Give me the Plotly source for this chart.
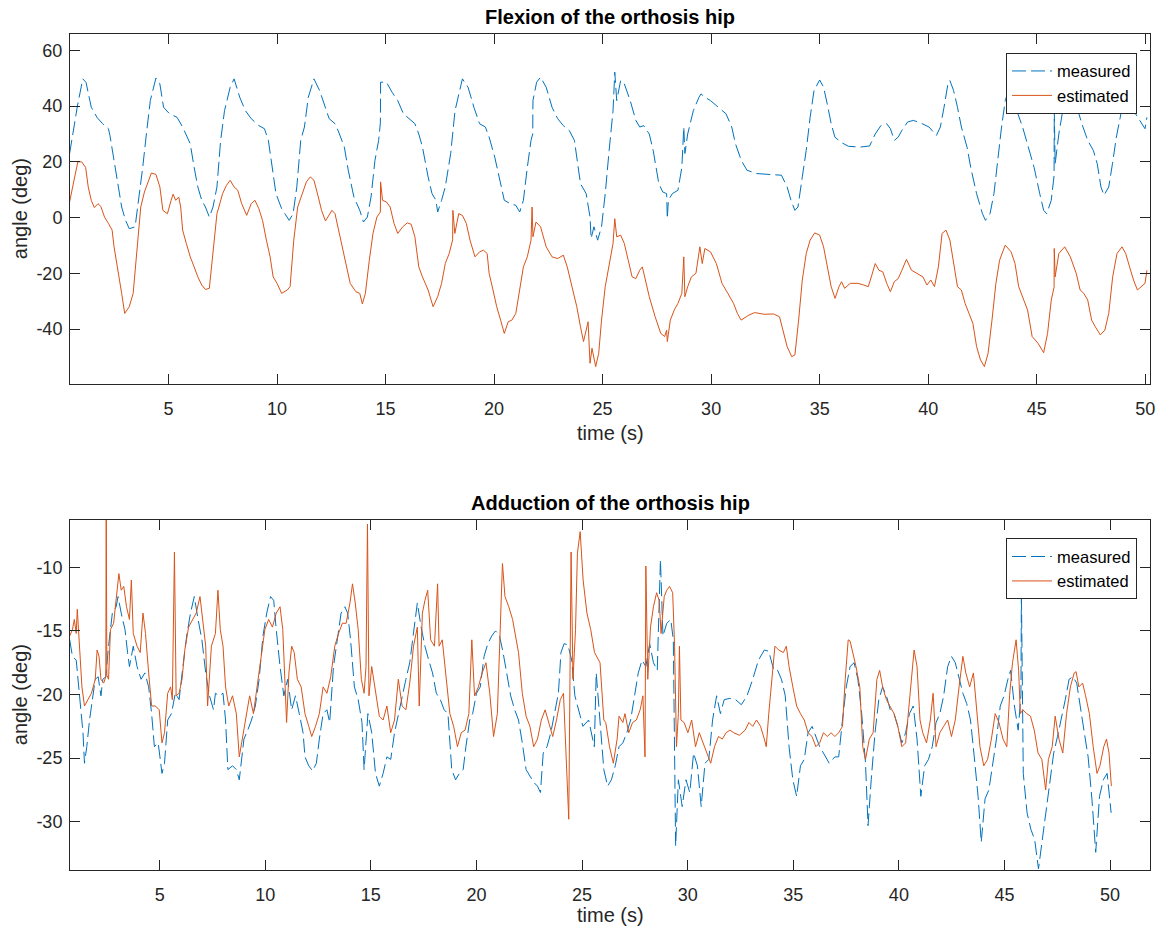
import plotly.graph_objects as go

# ---------------- data (time s, angle deg) ----------------
flex_measured = [
    (0.44, 22.9), (0.65, 33), (0.8, 40), (1.05, 49.8), (1.2, 48.5), (1.44, 39.6), (1.7, 36), (1.96, 33.7),
    (2.23, 31.9), (2.3, 29.5), (2.49, 20.5), (2.67, 11), (2.84, 3.8), (3.02, -1), (3.19, -4), (3.46, -3.3),
    (3.63, 6.2), (3.81, 18), (3.98, 30), (4.16, 42), (4.42, 50.1), (4.6, 48), (4.77, 39.6), (5.04, 37.3),
    (5.2, 36.7), (5.39, 36), (5.65, 32.5), (6.0, 26.5), (6.18, 18), (6.35, 11), (6.53, 6.2), (6.7, 3.8),
    (6.88, 0.2), (7.05, 3.8), (7.23, 11), (7.4, 27.7), (7.58, 38.4), (7.84, 46.8), (8.02, 49.8), (8.28, 43.2),
    (8.54, 38.4), (8.81, 35.5), (9.16, 33), (9.42, 31.9), (9.6, 27.7), (9.77, 18), (9.95, 8.6), (10.21, 3.2),
    (10.56, -1), (10.74, 1.4), (10.91, 11), (11.09, 27.7), (11.26, 32.5), (11.44, 43.2), (11.7, 49.8),
    (11.96, 45.6), (12.23, 39.6), (12.4, 35.5), (12.67, 33.7), (12.84, 30.7), (13.1, 25.3), (13.28, 17),
    (13.54, 7.4), (13.81, 2.6), (13.98, -1.6), (14.16, 0.2), (14.33, 7.4), (14.51, 20.5), (14.68, 27.7),
    (14.76, 34), (14.77, 48.6), (15.04, 48.6), (15.3, 45), (15.56, 42), (15.82, 37.3), (16.09, 35.5),
    (16.35, 33.7), (16.53, 30), (16.7, 25.3), (16.96, 14.6), (17.14, 8.6), (17.32, 6.2), (17.4, 2),
    (17.58, 6.2), (17.75, 11), (18.0, 23), (18.2, 38.4), (18.54, 49.8), (18.8, 46.8), (19.07, 39.6),
    (19.33, 33.7), (19.6, 32.5), (19.77, 28.9), (20.03, 21.7), (20.3, 12.2), (20.47, 6.2), (20.74, 5),
    (21.0, 4.4), (21.18, 2), (21.35, 6.2), (21.53, 18), (21.7, 27.7), (21.78, 30), (21.79, 42), (21.96, 48.6),
    (22.14, 50.4), (22.4, 46.8), (22.67, 39.6), (22.93, 35.5), (23.19, 33), (23.46, 31.3), (23.7, 27.7),
    (23.98, 12.2), (24.24, 8.6), (24.42, 0.2), (24.47, -7.5), (24.6, -3.3), (24.77, -8.1), (24.95, -3.3),
    (25.12, 8.6), (25.3, 24.1), (25.48, 38.4), (25.56, 52.2), (25.65, 42), (25.83, 49.2), (26.0, 48),
    (26.27, 42), (26.53, 34.9), (26.71, 32.5), (26.89, 33), (27.15, 30), (27.33, 24.1), (27.59, 12.2),
    (27.77, 9.2), (27.95, 8.6), (27.98, -0.4), (28.03, 6.2), (28.21, 8.6), (28.47, 9.8), (28.65, 18),
    (28.74, 32.5), (28.79, 23), (28.92, 30), (29.18, 38.4), (29.44, 43.2), (29.53, 44.4), (29.71, 43.2),
    (29.97, 42), (30.33, 39.6), (30.68, 37.3), (30.95, 32.5), (31.12, 26.5), (31.39, 20.5), (31.65, 17),
    (32.09, 15.8), (32.7, 15.5), (33.24, 15.2), (33.5, 11), (33.68, 6.2), (33.86, 2.6), (34.0, 3.8),
    (34.2, 14.6), (34.38, 24.1), (34.56, 36), (34.74, 45.6), (35.0, 49.4), (35.18, 46.8), (35.35, 40.8),
    (35.53, 33.7), (35.7, 28.9), (35.97, 27.1), (36.32, 25.6), (36.85, 25.3), (37.3, 25.7), (37.56, 30),
    (37.82, 33), (38.09, 33.7), (38.26, 31.9), (38.44, 27.7), (38.62, 28.9), (38.79, 31.3), (39.05, 34.3),
    (39.32, 34.9), (39.67, 33.9), (40.04, 32.5), (40.38, 29.5), (40.56, 32.5), (40.73, 39.6), (40.91, 48),
    (41.0, 49.2), (41.17, 45.6), (41.35, 39.6), (41.53, 32.5), (41.79, 25.3), (41.96, 18), (42.23, 8.6),
    (42.5, 1.4), (42.64, -1), (42.85, 1.4), (43.03, 8.6), (43.2, 20.5), (43.38, 32.5), (43.55, 42),
    (43.75, 46.5), (43.95, 44), (44.08, 38.4), (44.35, 32.5), (44.6, 25.3), (44.88, 18), (45.14, 8.6),
    (45.32, 2.6), (45.46, 1.4), (45.67, 6.2), (45.8, 15), (45.81, 38.4), (45.85, 19.3), (46.02, 30),
    (46.2, 38.4), (46.38, 43.2), (46.55, 46), (46.75, 44), (46.9, 38.4), (47.08, 33.7), (47.35, 27.7),
    (47.61, 24.1), (47.79, 19.3), (47.96, 11), (48.1, 8), (48.32, 11), (48.49, 19.3), (48.67, 28.9),
    (48.85, 36), (49.02, 43.2), (49.15, 44.5), (49.3, 41), (49.46, 38.4), (49.73, 34.9), (49.99, 31.9),
    (50.08, 36),
]

flex_estimated = [
    (0.44, 5.6), (0.65, 13.4), (0.82, 20), (1.0, 20), (1.18, 18), (1.3, 11), (1.44, 6.2), (1.58, 3.6),
    (1.75, 5), (1.88, 4), (2.05, 0.2), (2.23, -2.1), (2.4, -4.5), (2.49, -10.5), (2.67, -20), (2.84, -27.2),
    (2.98, -34.4), (3.19, -32), (3.37, -27.2), (3.54, -12.9), (3.72, 3.8), (3.89, 9.2), (4.07, 13.4),
    (4.21, 16), (4.42, 15.5), (4.6, 11), (4.74, 2.6), (4.95, 1.4), (5.12, 6.2), (5.21, 8.4), (5.33, 6.2),
    (5.47, 7.4), (5.56, 3.8), (5.65, -4.5), (5.82, -9.3), (6.0, -14.1), (6.18, -17.7), (6.35, -21.3),
    (6.53, -24.2), (6.7, -25.8), (6.88, -25.4), (7.05, -12.9), (7.23, 1.4), (7.32, 3.8), (7.49, 8.6),
    (7.67, 11.6), (7.84, 13.4), (8.02, 11), (8.19, 9.8), (8.37, 5), (8.6, 0.8), (8.81, 5), (8.98, 6.2),
    (9.16, 3.2), (9.33, -1), (9.51, -8.1), (9.68, -14.1), (9.82, -21.3), (10.0, -23.6), (10.21, -27.2),
    (10.47, -26), (10.6, -24.8), (10.77, -8.1), (10.95, 3.8), (11.18, 9.2), (11.35, 12.8), (11.53, 14.6),
    (11.7, 13.4), (11.88, 8), (12.05, 2.6), (12.23, -1.2), (12.4, 0.8), (12.53, 2.6), (12.67, 1.4),
    (12.84, -4.5), (13.02, -10.5), (13.19, -16.5), (13.37, -23.6), (13.63, -26.6), (13.81, -27.2),
    (13.93, -31), (14.07, -27.2), (14.25, -15.3), (14.42, -5.7), (14.6, 0.2), (14.76, 2), (14.77, 12.8),
    (14.86, 6.2), (15.04, 5.6), (15.21, 3.8), (15.39, -2.1), (15.56, -5.7), (15.79, -3.3), (16.0, -1.9),
    (16.18, -2.4), (16.35, -6.9), (16.53, -17.7), (16.7, -21.3), (16.96, -26), (17.19, -32), (17.4, -28.4),
    (17.58, -23.6), (17.75, -16.5), (17.93, -12.9), (18.09, -8), (18.1, 2.6), (18.19, -5.7), (18.37, 1.4),
    (18.54, 0.8), (18.72, -2.1), (18.89, -8.1), (19.12, -14.1), (19.33, -12.3), (19.51, -11.7),
    (19.68, -12.9), (19.77, -20), (19.95, -26), (20.12, -32), (20.3, -36.8), (20.47, -41.6), (20.65, -37.4),
    (20.82, -36.8), (21.0, -34.4), (21.18, -26), (21.35, -17.7), (21.53, -14.1), (21.7, -8.1), (21.75, 3.8),
    (21.79, -6.9), (21.93, -1.6), (22.14, -3.3), (22.4, -10.5), (22.67, -14.1), (22.93, -14.7),
    (23.19, -13.5), (23.37, -17.7), (23.54, -23.6), (23.81, -32), (23.98, -39.2), (24.12, -44.5),
    (24.33, -37.4), (24.42, -52.3), (24.51, -46.9), (24.68, -53.5), (24.82, -48.7), (24.95, -36.8),
    (25.12, -24.8), (25.3, -17.7), (25.48, -9.3), (25.56, -0.4), (25.65, -6.9), (25.83, -6.3), (26.0, -9.3),
    (26.18, -15.3), (26.36, -21.3), (26.53, -21.9), (26.71, -18.9), (26.83, -17.7), (26.98, -22.4),
    (27.15, -28.4), (27.42, -35.6), (27.68, -41.6), (27.86, -42.7), (27.95, -40.4), (27.98, -44.5),
    (28.12, -36.8), (28.3, -33.2), (28.47, -30.8), (28.65, -27.2), (28.74, -14.1), (28.79, -28.4),
    (28.92, -24.8), (29.09, -21.3), (29.3, -20), (29.48, -10.5), (29.59, -16.5), (29.71, -11.1),
    (29.97, -12.3), (30.24, -16.5), (30.5, -23.6), (30.77, -27.2), (31.03, -30.8), (31.21, -34.4),
    (31.38, -36.8), (31.74, -35), (32.0, -34.1), (32.44, -34.7), (32.88, -34.6), (33.15, -35.6),
    (33.32, -40.4), (33.5, -46.3), (33.71, -49.9), (33.86, -49.3), (34.03, -36.8), (34.2, -22.4),
    (34.38, -12.9), (34.56, -8.1), (34.77, -5.5), (35.0, -6.3), (35.18, -10.5), (35.35, -17.7),
    (35.53, -24.8), (35.71, -29), (35.89, -24.8), (36.01, -23), (36.15, -25.4), (36.41, -23.6),
    (36.76, -23.6), (37.03, -24.2), (37.24, -24.8), (37.38, -21.3), (37.56, -16.5), (37.73, -18.9),
    (37.91, -19.5), (38.09, -23.6), (38.26, -26.6), (38.44, -23), (38.62, -21.9), (38.79, -18.9), (39.0, -15),
    (39.23, -18.9), (39.5, -20), (39.76, -21.3), (39.94, -24.2), (40.12, -22.4), (40.29, -24.8),
    (40.47, -17.7), (40.64, -5.7), (40.82, -4.5), (41.0, -8.1), (41.17, -16.5), (41.35, -24.8), (41.53, -26),
    (41.7, -30.8), (41.88, -34.4), (42.06, -38), (42.23, -46.3), (42.41, -51.1), (42.59, -53.5),
    (42.76, -48.7), (42.94, -36.8), (43.12, -23.6), (43.29, -15.3), (43.55, -9.9), (43.82, -12.3), (44.0, -16.5),
    (44.17, -24.8), (44.4, -29.6), (44.58, -33.2), (44.79, -42.7), (45.06, -45.1), (45.32, -48.5),
    (45.5, -41.6), (45.67, -29.6), (45.8, -25), (45.81, -11.1), (45.85, -21.3), (46.02, -12.9),
    (46.29, -10.5), (46.55, -14.1), (46.82, -20), (47.0, -26), (47.17, -27.2), (47.35, -29.6), (47.53, -36.8),
    (47.7, -39.2), (47.93, -42.1), (48.14, -40.4), (48.32, -34.4), (48.5, -21.3), (48.7, -12.9),
    (48.93, -10.5), (49.1, -12.9), (49.28, -17.7), (49.46, -22.4), (49.64, -26), (49.8, -24.8),
    (49.99, -23.6), (50.08, -18.9),
]

add_measured = [
    (0.74, -15.7), (0.87, -17), (1.05, -17.3), (1.14, -18.8), (1.23, -20.4), (1.37, -23), (1.44, -25.4),
    (1.55, -24.1), (1.68, -22), (1.86, -20.1), (1.95, -18.8), (2.09, -18.6), (2.22, -20.1), (2.31, -18.8),
    (2.45, -18.6), (2.58, -16.2), (2.76, -13.6), (2.94, -13.1), (3.03, -12.3), (3.18, -13.6), (3.36, -14.9),
    (3.48, -16.7), (3.57, -17.8), (3.75, -16.2), (3.93, -17.8), (4.12, -18.8), (4.3, -18.3), (4.48, -19.4),
    (4.62, -21.5), (4.75, -24.1), (4.93, -23.8), (5.11, -26.2), (5.23, -25.4), (5.38, -22), (5.56, -21.5),
    (5.74, -19.9), (5.92, -20.4), (6.1, -17.8), (6.28, -15.4), (6.46, -13.6), (6.64, -12.3), (6.82, -14.1),
    (7.0, -15.7), (7.18, -18.3), (7.36, -20.1), (7.55, -21.2), (7.64, -19.9), (7.82, -20.1), (8.0, -19.9),
    (8.12, -22), (8.23, -25.9), (8.45, -25.6), (8.63, -25.9), (8.77, -26.7), (8.99, -23.5), (9.17, -22.8),
    (9.35, -22), (9.53, -20.9), (9.71, -18.8), (9.89, -15.4), (10.07, -13.6), (10.25, -12.3), (10.4, -12.6),
    (10.52, -14.9), (10.7, -17.8), (10.88, -20.1), (11.06, -18.8), (11.25, -21.2), (11.43, -20.1),
    (11.61, -21.5), (11.79, -23), (11.88, -24.9), (12.06, -25.6), (12.24, -26), (12.42, -25.4),
    (12.56, -23.5), (12.74, -21.5), (12.92, -21.2), (13.05, -22.2), (13.23, -17.8), (13.41, -15.7),
    (13.59, -13.6), (13.77, -13.1), (13.9, -13.6), (14.04, -15.7), (14.22, -19.4), (14.4, -20.4),
    (14.58, -22.2), (14.68, -25.9), (14.86, -21.5), (15.04, -23), (15.22, -26.2), (15.4, -27.2),
    (15.58, -26.2), (15.76, -24.9), (15.94, -25.1), (16.12, -23), (16.3, -21.5), (16.48, -20.1),
    (16.66, -18.8), (16.84, -17.5), (17.02, -14.9), (17.2, -12.8), (17.38, -14.7), (17.56, -16.2),
    (17.74, -17.3), (17.92, -18.3), (18.1, -19.9), (18.29, -20.4), (18.47, -21.2), (18.65, -21.5),
    (18.83, -25.9), (19.01, -26.7), (19.19, -26.2), (19.37, -25.9), (19.5, -24.1), (19.68, -22),
    (19.82, -21.5), (20.0, -19.9), (20.18, -19.4), (20.36, -17), (20.54, -16), (20.72, -15.4), (20.9, -15),
    (21.08, -15.3), (21.26, -16.7), (21.44, -18.3), (21.62, -20.1), (21.81, -21.2), (21.99, -22),
    (22.17, -23.8), (22.35, -25.9), (22.53, -26.4), (22.71, -26.9), (22.89, -27.2), (23.03, -27.7),
    (23.16, -24.6), (23.34, -24.1), (23.52, -23), (23.7, -21.5), (23.88, -19.9), (24.0, -16.7), (24.15, -16),
    (24.33, -16.1), (24.51, -17.3), (24.66, -20.1), (24.87, -21.5), (25.04, -22.5), (25.31, -22),
    (25.58, -24.1), (25.67, -18.3), (25.85, -22.2), (26.03, -25.9), (26.21, -27.2), (26.39, -26.7),
    (26.57, -25.6), (26.75, -24.1), (26.93, -23.8), (27.12, -23), (27.3, -22), (27.48, -20.1), (27.66, -18.3),
    (27.84, -17.3), (28.02, -17.8), (28.2, -16), (28.38, -17.5), (28.56, -18.1), (28.71, -9.4),
    (28.83, -15.4), (29.01, -14.4), (29.2, -14.1), (29.32, -15.7), (29.43, -31.9), (29.56, -26.7),
    (29.74, -28.8), (29.92, -26.7), (30.1, -27.7), (30.28, -24.6), (30.46, -25.6), (30.64, -28.8),
    (30.82, -25.4), (31.0, -25.1), (31.18, -22), (31.37, -20.1), (31.55, -21.5), (31.73, -20.4), (32.0, -20.3),
    (32.27, -20.4), (32.54, -20.8), (32.81, -20.1), (33.08, -18.8), (33.35, -17.3), (33.63, -16.5),
    (33.84, -16.6), (34.08, -18.1), (34.26, -18.1), (34.44, -18.8), (34.62, -20.1), (34.8, -24.1),
    (34.98, -26.7), (35.16, -28), (35.34, -25.6), (35.52, -25.1), (35.7, -23), (35.89, -22.5), (36.07, -23.3),
    (36.25, -24.1), (36.43, -24.6), (36.7, -25.4), (36.97, -24.9), (37.15, -24.9), (37.33, -22),
    (37.51, -19.4), (37.69, -17.8), (37.88, -17.5), (38.06, -18.8), (38.24, -21.5), (38.42, -25.4),
    (38.54, -30.3), (38.69, -26.7), (38.87, -23), (39.05, -20.4), (39.23, -19.4), (39.41, -20.1),
    (39.59, -21.2), (39.77, -21.5), (39.95, -22.5), (40.14, -23.8), (40.32, -23), (40.5, -21.5),
    (40.68, -20.9), (40.86, -23.5), (41.04, -28), (41.22, -25.6), (41.4, -25.1), (41.58, -24.1),
    (41.76, -22.2), (41.94, -21.5), (42.12, -20.1), (42.31, -17.8), (42.49, -17), (42.67, -17.5),
    (42.85, -18.8), (43.03, -19.9), (43.21, -20.7), (43.39, -22), (43.57, -24.9), (43.75, -28), (43.9, -31.6),
    (44.08, -28.2), (44.26, -27.5), (44.44, -25.6), (44.62, -23.5), (44.8, -20.9), (44.98, -20.1),
    (45.16, -18.8), (45.29, -18.1), (45.47, -20.9), (45.65, -22.8), (45.78, -20), (45.8, -11.8),
    (45.89, -26.2), (46.07, -29.3), (46.25, -30.6), (46.43, -31.4), (46.61, -33.7), (46.79, -31.4),
    (46.97, -29.3), (47.15, -26.7), (47.33, -24.6), (47.51, -23.3), (47.69, -22), (47.88, -20.4),
    (48.06, -18.8), (48.24, -18.6), (48.42, -19.1), (48.6, -20.9), (48.78, -23), (48.96, -24.9),
    (49.14, -28.2), (49.32, -32.4), (49.5, -28), (49.68, -26.7), (49.86, -26.2), (50.05, -29.3),
]

add_estimated = [
    (0.74, -15.4), (0.87, -14.9), (0.96, -14.1), (1.05, -15.2), (1.1, -13.3), (1.19, -16.2), (1.32, -19.4),
    (1.44, -20.9), (1.59, -20.4), (1.77, -19.9), (1.95, -18.8), (2.04, -16.5), (2.13, -17), (2.22, -18.8),
    (2.35, -19.1), (2.45, -18.6), (2.47, -5), (2.5, -18.5), (2.58, -18.8), (2.67, -14.9), (2.82, -14.4),
    (2.94, -12.3), (3.07, -10.5), (3.18, -11.8), (3.3, -11.5), (3.43, -13.1), (3.57, -14.1), (3.66, -11),
    (3.75, -15.2), (3.93, -16.2), (4.08, -16.7), (4.21, -13.6), (4.33, -15.2), (4.48, -18.3), (4.62, -20.9),
    (4.8, -20.9), (4.98, -21.2), (5.11, -23.8), (5.23, -23), (5.38, -19.9), (5.52, -19.4), (5.6, -20.4),
    (5.7, -8.8), (5.78, -20.1), (5.92, -19.9), (6.06, -18.8), (6.19, -16.5), (6.37, -14.7), (6.55, -14.1),
    (6.73, -13.6), (6.91, -12.3), (7.04, -14.4), (7.18, -16.2), (7.27, -20.9), (7.45, -16.2), (7.64, -15.2),
    (7.76, -11.8), (7.87, -14.9), (8.0, -16.2), (8.12, -19.4), (8.27, -20.9), (8.45, -20.1), (8.63, -21.5),
    (8.77, -24.9), (8.95, -23), (9.13, -21.2), (9.26, -20.1), (9.44, -21.5), (9.62, -19.4), (9.8, -17),
    (9.98, -14.9), (10.16, -14.1), (10.34, -14.7), (10.52, -13.6), (10.7, -13.1), (10.83, -14.9),
    (10.94, -18.8), (11.01, -22.2), (11.12, -18.3), (11.25, -16.2), (11.37, -16.7), (11.52, -18.8),
    (11.7, -19.4), (11.88, -21.5), (12.06, -22.5), (12.2, -23.3), (12.38, -22.5), (12.56, -21.5),
    (12.74, -19.4), (12.92, -19.9), (13.1, -18.6), (13.29, -16.2), (13.47, -15.2), (13.65, -14.4),
    (13.83, -14.4), (14.01, -12.8), (14.13, -11.3), (14.26, -12.8), (14.4, -14.9), (14.55, -18.8),
    (14.68, -19.9), (14.77, -17.8), (14.84, -6.6), (14.91, -20.1), (15.04, -17.8), (15.22, -19.9),
    (15.4, -21.7), (15.58, -22), (15.76, -20.9), (15.94, -23), (16.12, -22), (16.3, -18.8), (16.48, -20.9),
    (16.66, -21.2), (16.84, -19.1), (17.02, -16.2), (17.2, -14.7), (17.29, -20.9), (17.44, -13.6),
    (17.56, -12.6), (17.69, -11.8), (17.83, -15.7), (18.01, -16.2), (18.16, -11.3), (18.23, -16.2),
    (18.38, -15.7), (18.56, -18.8), (18.74, -21.5), (18.92, -22.5), (19.1, -24.1), (19.28, -23),
    (19.46, -22.8), (19.64, -21.5), (19.78, -15.7), (19.91, -20.1), (20.09, -19.4), (20.27, -18.3),
    (20.45, -17.5), (20.63, -19.9), (20.81, -23.3), (20.99, -21.5), (21.12, -14.9), (21.23, -9.7),
    (21.35, -12.3), (21.53, -13.1), (21.71, -14.1), (21.84, -15.2), (21.99, -16.7), (22.17, -19.9),
    (22.35, -21.7), (22.53, -22.5), (22.71, -24.1), (22.89, -23.5), (23.07, -22), (23.25, -21.2),
    (23.43, -22.2), (23.61, -23.3), (23.79, -22), (23.97, -20.4), (24.12, -19.9), (24.24, -25.4),
    (24.37, -29.8), (24.48, -8.8), (24.57, -18.8), (24.69, -14.9), (24.78, -8.9), (24.91, -7.2), (25.05, -11),
    (25.23, -13.6), (25.41, -14.9), (25.59, -16.7), (25.85, -17.5), (26.03, -22), (26.12, -22.2),
    (26.3, -24.1), (26.48, -25.4), (26.66, -23.5), (26.75, -21.7), (26.93, -22.2), (27.03, -21.5),
    (27.21, -23), (27.39, -22.2), (27.57, -22), (27.75, -21.2), (27.88, -20.1), (27.98, -24.9), (28.02, -9.9),
    (28.11, -18.8), (28.24, -14.7), (28.38, -13.1), (28.53, -12), (28.65, -12.6), (28.74, -15.2),
    (28.89, -12.3), (29.01, -11.8), (29.14, -11.5), (29.29, -12), (29.38, -16.2), (29.47, -24.1),
    (29.56, -21.5), (29.61, -16.2), (29.68, -22), (29.83, -22.2), (30.01, -23), (30.19, -22), (30.37, -24.1),
    (30.55, -23), (30.73, -23.8), (30.91, -24.6), (31.09, -25.4), (31.27, -24.1), (31.46, -23.3),
    (31.64, -23.5), (31.82, -23), (32.0, -22.8), (32.18, -23), (32.45, -23.2), (32.72, -22.8), (32.9, -22.2),
    (33.08, -22.5), (33.26, -22), (33.45, -22.5), (33.63, -23.5), (33.72, -24.1), (33.84, -21.5),
    (33.99, -18.6), (34.13, -16.2), (34.31, -16.5), (34.53, -16.7), (34.67, -16.2), (34.8, -17.8),
    (34.98, -19.4), (35.16, -20.9), (35.34, -21.5), (35.52, -22), (35.7, -23), (35.89, -23.3), (36.07, -24.1),
    (36.25, -23.8), (36.43, -23), (36.61, -23.3), (36.79, -23), (36.97, -23.3), (37.15, -23), (37.33, -22.5),
    (37.46, -18.8), (37.6, -15.7), (37.69, -15.8), (37.82, -16.7), (37.97, -17.8), (38.15, -19.4),
    (38.29, -24.1), (38.42, -25.1), (38.6, -23.5), (38.78, -23), (38.96, -18.8), (39.09, -18.1),
    (39.23, -19.4), (39.41, -20.4), (39.59, -20.9), (39.77, -21.5), (39.95, -22.5), (40.14, -24.1),
    (40.32, -23.8), (40.41, -22), (40.59, -18.8), (40.72, -16.5), (40.86, -17.8), (41.0, -22), (41.13, -23),
    (41.31, -23.8), (41.49, -22), (41.62, -19.9), (41.76, -24.1), (41.94, -23), (42.12, -22.5), (42.31, -22),
    (42.49, -23.3), (42.67, -22), (42.85, -19.4), (43.03, -17), (43.17, -18.3), (43.35, -19.4),
    (43.53, -18.3), (43.66, -20.9), (43.84, -24.1), (44.02, -25.6), (44.2, -25.1), (44.38, -23.5),
    (44.56, -21.5), (44.74, -22.2), (44.93, -23.5), (45.11, -24.1), (45.24, -20.1), (45.38, -17.5),
    (45.55, -15.7), (45.67, -18.1), (45.75, -21.5), (45.87, -21.2), (46.05, -21.5), (46.23, -21.7),
    (46.41, -22.8), (46.59, -24.6), (46.77, -25.1), (46.95, -27.5), (47.08, -25.1), (47.26, -24.1),
    (47.4, -21.7), (47.58, -23.5), (47.76, -24.6), (47.94, -21.5), (48.12, -19.4), (48.3, -18.3),
    (48.39, -18.2), (48.52, -19.4), (48.7, -19.1), (48.84, -20.1), (49.02, -21.5), (49.2, -24.1),
    (49.38, -26.2), (49.52, -25.6), (49.7, -24.1), (49.83, -23.5), (49.95, -24.6), (50.06, -27.2),
]

top_xrange = [0.46, 50.22]
top_yrange = [-59.75, 65.9]
bot_xrange = [0.755, 51.89]
bot_yrange = [-33.79, -6.28]
x_ticks = [5, 10, 15, 20, 25, 30, 35, 40, 45, 50]
top_yticks = [-40, -20, 0, 20, 40, 60]
bot_yticks = [-30, -25, -20, -15, -10]

BLUE = "#0072BD"
ORANGE = "#D95319"
AX = "#262626"
FONT = "Liberation Sans, Arial, sans-serif"


def split(pairs):
    return [p[0] for p in pairs], [p[1] for p in pairs]


def labels(vals):
    return [str(v) for v in vals]  # plain hyphen-minus like the reference


fig = go.Figure()

for pairs, name, color, dash, xa, ya, lg in [
    (flex_measured, "measured", BLUE, "14px,5px", "x", "y", "legend"),
    (flex_estimated, "estimated", ORANGE, "solid", "x", "y", "legend"),
    (add_measured, "measured", BLUE, "14px,5px", "x2", "y2", "legend2"),
    (add_estimated, "estimated", ORANGE, "solid", "x2", "y2", "legend2"),
]:
    t, v = split(pairs)
    fig.add_trace(go.Scatter(x=t, y=v, mode="lines", name=name, xaxis=xa, yaxis=ya, legend=lg,
                             line=dict(color=color, width=1, dash=dash)))

axis_common = dict(showline=True, linecolor=AX, linewidth=1, mirror="ticks", ticks="inside",
                   ticklen=10, tickcolor=AX, tickwidth=1, showgrid=False, zeroline=False,
                   tickfont=dict(family=FONT, size=18, color=AX))

legend_common = dict(xanchor="right", yanchor="top", bgcolor="white", bordercolor=AX, borderwidth=1,
                     font=dict(family=FONT, size=16.5, color="black"), tracegroupgap=0, itemwidth=40)

fig.update_layout(
    width=1163, height=933,
    margin=dict(l=70, r=8, t=34, b=63),
    paper_bgcolor="white", plot_bgcolor="white",
    font=dict(family=FONT, color=AX),
    xaxis=dict(domain=[0, 1], anchor="y", range=top_xrange, tickvals=x_ticks, ticktext=labels(x_ticks),
               ticklabelstandoff=8, **axis_common),
    yaxis=dict(domain=[0.5813, 1.0], anchor="x", range=top_yrange, tickvals=top_yticks,
               ticktext=labels(top_yticks), ticklabelstandoff=3, **axis_common),
    xaxis2=dict(domain=[0, 1], anchor="y2", range=bot_xrange, tickvals=x_ticks, ticktext=labels(x_ticks),
                ticklabelstandoff=8, **axis_common),
    yaxis2=dict(domain=[0.0, 0.4187], anchor="x2", range=bot_yrange, tickvals=bot_yticks,
                ticktext=labels(bot_yticks), ticklabelstandoff=3, **axis_common),
    legend=dict(x=0.988, y=0.9776, **legend_common),
    legend2=dict(x=0.988, y=0.3968, **legend_common),
    showlegend=True,
)

ann = [
    dict(text="<b>Flexion of the orthosis hip</b>", x=0.5, y=1.0203, size=20, color="black", angle=0),
    dict(text="time (s)", x=0.5, y=0.5227, size=20, color=AX, angle=0),
    dict(text="<b>Adduction of the orthosis hip</b>", x=0.5, y=0.439, size=20, color="black", angle=0),
    dict(text="time (s)", x=0.5, y=-0.0538, size=20, color=AX, angle=0),
    dict(text="angle (deg)", x=-0.0461, y=0.7907, size=20, color=AX, angle=-90),
    dict(text="angle (deg)", x=-0.0461, y=0.2093, size=20, color=AX, angle=-90),
]
for a in ann:
    fig.add_annotation(text=a["text"], x=a["x"], y=a["y"], xref="paper", yref="paper",
                       xanchor="center", yanchor="middle", showarrow=False, textangle=a["angle"],
                       font=dict(family=FONT, size=a["size"], color=a["color"]))

fig.write_html("out.html")
